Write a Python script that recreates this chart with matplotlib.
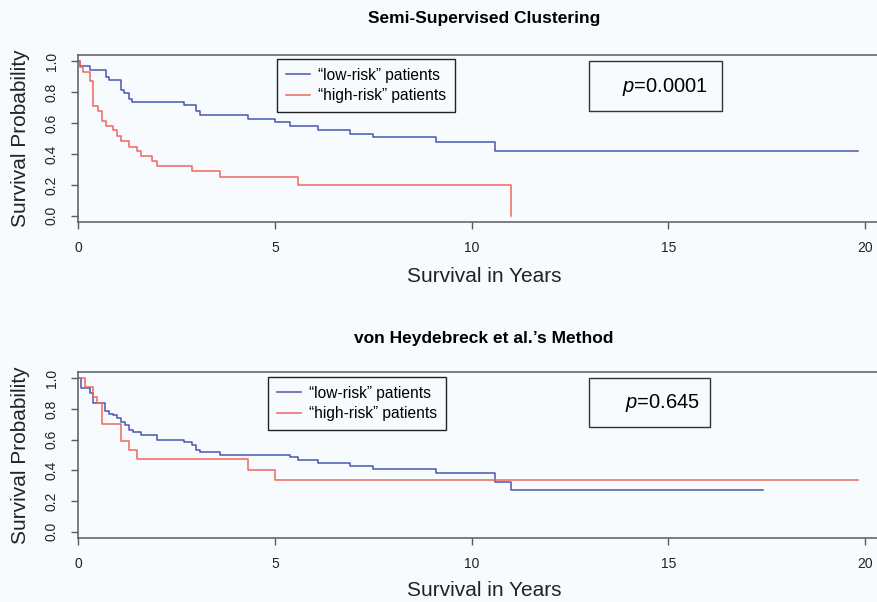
import matplotlib
matplotlib.use("Agg")
import matplotlib.pyplot as plt
from matplotlib.patches import Rectangle

W, H = 878, 602

# top panel: semi-supervised clustering
top_low_t = [0, 0.05, 0.30, 0.70, 0.79, 1.09, 1.17, 1.29, 1.37, 2.69, 2.99, 3.09, 4.31,
             5.00, 5.38, 6.10, 6.91, 7.50, 9.10, 10.60, 19.82]
top_low_s = [1.0, 0.967, 0.94, 0.90, 0.88, 0.816, 0.794, 0.758, 0.736, 0.714, 0.675, 0.654, 0.628,
             0.606, 0.58, 0.556, 0.53, 0.508, 0.476, 0.422, 0.422]
top_high_t = [0, 0.04, 0.13, 0.30, 0.38, 0.49, 0.59, 0.70, 0.89, 0.99, 1.09, 1.29, 1.50,
              1.59, 1.88, 1.99, 2.90, 3.60, 5.59, 11.0]
top_high_s = [1.0, 0.963, 0.931, 0.872, 0.71, 0.675, 0.612, 0.578, 0.552, 0.513, 0.487, 0.448, 0.418,
              0.385, 0.353, 0.32, 0.288, 0.253, 0.201, 0.0]

# bottom panel: von Heydebreck et al.'s method
bot_low_t = [0, 0.06, 0.30, 0.38, 0.68, 0.78, 0.89, 0.99, 1.09, 1.19, 1.29, 1.40, 1.59, 1.99,
             2.69, 2.88, 2.99, 3.09, 3.60, 5.38, 5.59, 6.10, 6.91, 7.50, 9.09, 10.60, 11.0, 17.42]
bot_low_s = [1.0, 0.933, 0.903, 0.839, 0.789, 0.768, 0.757, 0.74, 0.714, 0.692, 0.665, 0.649, 0.632, 0.60,
             0.585, 0.563, 0.535, 0.52, 0.503, 0.488, 0.466, 0.445, 0.428, 0.408, 0.38, 0.327, 0.273, 0.273]
bot_high_t = [0, 0.17, 0.38, 0.48, 0.59, 1.09, 1.30, 1.50, 4.31, 5.00, 19.82]
bot_high_s = [1.0, 0.94, 0.879, 0.839, 0.703, 0.589, 0.531, 0.471, 0.402, 0.337, 0.337]

panels = [
    ("Semi-Supervised Clustering", top_low_t, top_low_s, top_high_t, top_high_s, "$p$=0.0001"),
    ("von Heydebreck et al.\u2019s Method", bot_low_t, bot_low_s, bot_high_t, bot_high_s, "$p$=0.645"),
]

# pixel layout (top spine, bottom spine, title y, xlabel y, legend box, p box, p text)
layout = [
    dict(top=55, bottom=222, title=18, xlab=276, leg=(277, 59), pbox=(589, 61, 722, 111), ptxt=(708, 87)),
    dict(top=372, bottom=538, title=338, xlab=590, leg=(268, 377), pbox=(589, 378, 710, 427), ptxt=(700, 403)),
]

BLUE = "#4a56ae"
RED = "#f0655d"
BG = "#f7fbfd"
GRAY = "#5a5a5a"

plt.rcParams['font.family'] = ['Liberation Sans', 'DejaVu Sans']
plt.rcParams['mathtext.fontset'] = 'custom'
plt.rcParams['mathtext.it'] = 'Liberation Sans:italic'
plt.rcParams['mathtext.rm'] = 'Liberation Sans'

fig = plt.figure(figsize=(W / 100, H / 100), dpi=100, facecolor=BG)

x0, x1 = 78.3, 890
px_per_year = 39.33

for (title, lt, ls, ht, hs, ptext), L in zip(panels, layout):
    ax = fig.add_axes([x0 / W, 1 - L['bottom'] / H, (x1 - x0) / W, (L['bottom'] - L['top']) / H])
    ax.set_facecolor(BG)
    ax.step(lt, ls, where='post', color=BLUE, lw=1.1, label='\u201clow-risk\u201d patients')
    ax.step(ht, hs, where='post', color=RED, lw=1.1, label='\u201chigh-risk\u201d patients')
    ax.set_xlim(0, (x1 - x0) / px_per_year)
    ax.set_ylim(-0.04, 1.04)
    ax.set_xticks([0, 5, 10, 15, 20])
    ax.set_yticks([0, 0.2, 0.4, 0.6, 0.8, 1.0])
    ax.set_yticklabels(["0.0", "0.2", "0.4", "0.6", "0.8", "1.0"], rotation=90, va='center')
    ax.tick_params(direction='out', length=5, width=1, color=GRAY, labelsize=10, pad=9, labelcolor='#222222')
    ax.spines['right'].set_visible(False)
    for s in ['top', 'left', 'bottom']:
        ax.spines[s].set_color(GRAY)
        ax.spines[s].set_linewidth(1.1)

    ax.set_xlabel("Survival in Years", fontsize=15, va='center', color='#222222')
    ax.xaxis.set_label_coords(0.5, (L['bottom'] - L['xlab']) / (L['bottom'] - L['top']))
    ax.set_ylabel("Survival Probability", fontsize=15, va='center', color='#222222')
    ax.yaxis.set_label_coords(-(x0 - 20) / (x1 - x0), 0.5)

    fig.text((x0 + x1) / 2 / W, 1 - L['title'] / H, title, ha='center', va='center',
             fontsize=12.5, fontweight='bold')

    lx, ly = L['leg']
    leg = ax.legend(loc='upper left', bbox_to_anchor=(lx / W, 1 - ly / H),
                    bbox_transform=fig.transFigure, borderaxespad=0, fancybox=False,
                    edgecolor='#222222', framealpha=1, facecolor=BG, fontsize=11.2,
                    handlelength=1.6, handletextpad=0.5, labelspacing=0.35, borderpad=0.55)
    leg.get_frame().set_linewidth(1.0)

    bx0, by0, bx1, by1 = L['pbox']
    fig.add_artist(Rectangle((bx0 / W, 1 - by1 / H), (bx1 - bx0) / W, (by1 - by0) / H,
                             transform=fig.transFigure, fill=False, edgecolor='#333333', lw=1.0))
    tx, ty = L['ptxt']
    fig.text(tx / W, 1 - ty / H, ptext, ha='right', va='center', fontsize=14.5)

fig.savefig("out.png", dpi=100, facecolor=BG)
